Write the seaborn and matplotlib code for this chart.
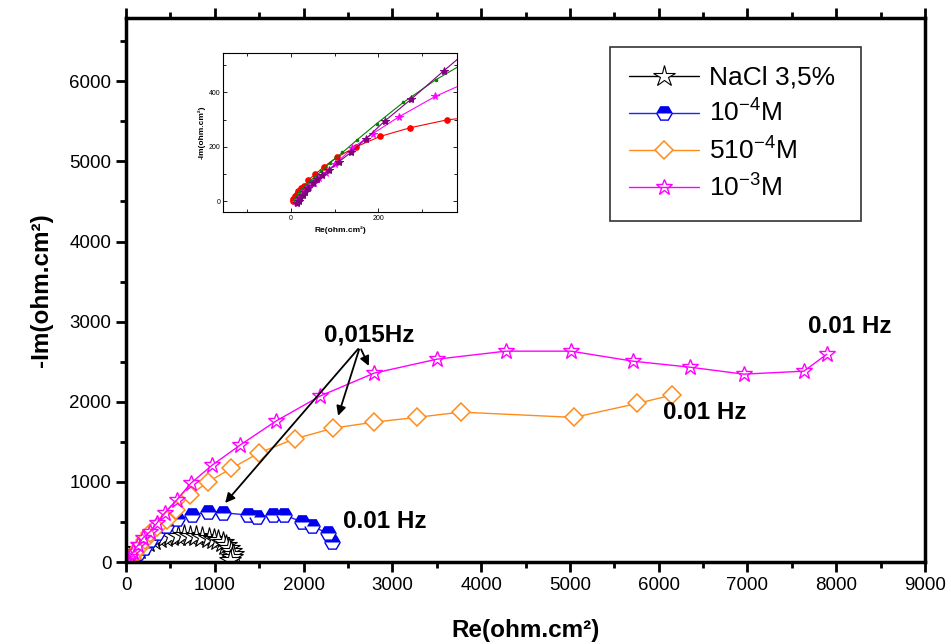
import matplotlib
matplotlib.use("Agg")
import matplotlib.pyplot as plt
import seaborn as sns
from matplotlib.ticker import MultipleLocator

# NaCl 3,5% (blank)
nacl_re = [20, 50, 90, 130, 180, 240, 300, 370, 440, 510, 580, 650, 720, 790,
           860, 930, 990, 1040, 1090, 1130, 1160, 1185, 1200, 1190, 1170]
nacl_im = [20, 60, 110, 160, 210, 250, 280, 300, 315, 325, 330, 332, 330, 326,
           318, 305, 290, 270, 245, 215, 180, 140, 100, 60, 30]

# 10^-4 M
m1e4_re = [15, 40, 80, 130, 200, 270, 346, 450, 578, 740, 927, 1096, 1378, 1471,
           1652, 1783, 1978, 2098, 2271, 2316]
m1e4_im = [5, 25, 60, 110, 180, 274, 358, 449, 532, 586, 627, 615, 586, 558,
           586, 586, 503, 449, 358, 253]

# 5 10^-4 M
m5e4_re = [10, 30, 64, 101, 158, 214, 270, 346, 458, 563, 721, 927, 1186, 1502,
           1903, 2335, 2793, 3273, 3769, 5045, 5759, 6145]
m5e4_im = [3, 15, 46, 108, 191, 274, 358, 433, 524, 649, 836, 1002, 1168, 1364,
           1538, 1671, 1746, 1805, 1871, 1805, 1979, 2083]

# 10^-3 M
m1e3_re = [8, 20, 45, 79, 135, 191, 270, 346, 439, 571, 729, 972, 1284, 1689,
           2185, 2793, 3502, 4279, 5011, 5709, 6351, 6959, 7635, 7894]
m1e3_im = [3, 15, 62, 125, 212, 299, 378, 483, 615, 773, 982, 1210, 1459, 1759,
           2071, 2357, 2532, 2632, 2632, 2507, 2432, 2345, 2382, 2594]

legend_labels = ["NaCl 3,5%", "10$^{-4}$M", "510$^{-4}$M", "10$^{-3}$M"]

# inset (zoom on high frequency part)
ins_purple_x = [15, 18, 22, 27, 33, 40, 50, 60, 72, 88, 110, 138, 172, 215, 275, 350, 420]
ins_purple_y = [-8, 0, 10, 22, 35, 50, 65, 80, 95, 115, 145, 180, 230, 295, 375, 480, 575]
ins_green_x = [8, 12, 18, 25, 35, 45, 55, 70, 90, 118, 152, 196, 257, 331, 420]
ins_green_y = [5, 15, 30, 45, 60, 75, 90, 110, 142, 179, 226, 285, 363, 446, 530]
ins_mag_x = [12, 16, 20, 26, 33, 42, 52, 64, 80, 100, 141, 187, 248, 330, 420]
ins_mag_y = [-5, 3, 12, 25, 38, 52, 68, 85, 105, 135, 195, 248, 311, 385, 450]
ins_red_x = [4, 6, 9, 13, 17, 23, 31, 40, 55, 76, 106, 148, 204, 273, 357, 420]
ins_red_y = [2, 8, 18, 28, 38, 48, 57, 78, 98, 127, 162, 199, 238, 270, 299, 310]

sns.set_style("ticks")
plt.rcParams['font.family'] = ['Liberation Sans', 'DejaVu Sans']
plt.rcParams['mathtext.fontset'] = 'custom'
plt.rcParams['mathtext.rm'] = 'Liberation Sans'
plt.rcParams['mathtext.it'] = 'Liberation Sans'
plt.rcParams['mathtext.bf'] = 'Liberation Sans:bold'
for key in ['text.color', 'axes.labelcolor', 'xtick.color', 'ytick.color', 'axes.edgecolor']:
    plt.rcParams[key] = 'black'

fig = plt.figure(figsize=(9.51, 6.44), dpi=100)
ax = fig.add_axes([0.1325, 0.1273, 0.8402, 0.8447])

common = dict(estimator=None, sort=False, ax=ax, legend=False)
sns.lineplot(x=nacl_re, y=nacl_im, color='black', lw=1, marker='*', markersize=16,
             markerfacecolor='white', markeredgecolor='black', markeredgewidth=0.8, **common)
sns.lineplot(x=m1e4_re, y=m1e4_im, color='#2020ff', lw=1, marker='H', markersize=11,
             fillstyle='top', markerfacecolor='#0000ee', markerfacecoloralt='white',
             markeredgecolor='#0000ee', markeredgewidth=1, **common)
sns.lineplot(x=m5e4_re, y=m5e4_im, color='#ff8c1a', lw=1, marker='D', markersize=9,
             markerfacecolor='white', markeredgecolor='#ff8c1a', markeredgewidth=1.1, **common)
sns.lineplot(x=m1e3_re, y=m1e3_im, color='#ff00ff', lw=1, marker='*', markersize=12,
             markerfacecolor='none', markeredgecolor='#ff00ff', markeredgewidth=1, **common)

ax.set_xlim(0, 9000)
ax.set_ylim(0, 6790)
ax.xaxis.set_major_locator(MultipleLocator(1000))
ax.xaxis.set_minor_locator(MultipleLocator(500))
ax.yaxis.set_major_locator(MultipleLocator(1000))
ax.yaxis.set_minor_locator(MultipleLocator(500))
ax.tick_params(which='both', direction='out', width=2, top=True, right=False,
               labelsize=13.5)
ax.tick_params(which='major', length=7)
ax.tick_params(which='minor', length=4)
for sp in ax.spines.values():
    sp.set_visible(True)
    sp.set_linewidth(2.5)

ax.set_xlabel("Re(ohm.cm²)", fontsize=17.5, fontweight='bold', labelpad=18)
ax.set_ylabel("-Im(ohm.cm²)", fontsize=17.5, fontweight='bold', labelpad=12)

# frequency annotations
ax.text(2736, 2831, "0,015Hz", fontsize=17.5, fontweight='bold', ha='center', va='center')
arrow = dict(arrowstyle='-|>', color='black', lw=1.3, mutation_scale=14)
for tip in [(2748, 2416), (2380, 1792), (1096, 711)]:
    ax.annotate("", xy=tip, xytext=(2635, 2686), arrowprops=arrow)
ax.text(8153, 2943, "0.01 Hz", fontsize=17.5, fontweight='bold', ha='center', va='center')
ax.text(6520, 1871, "0.01 Hz", fontsize=17.5, fontweight='bold', ha='center', va='center')
ax.text(2444, 511, "0.01 Hz", fontsize=17.5, fontweight='bold', ha='left', va='center')

leg = ax.legend(handles=ax.lines[:4], labels=legend_labels, loc='upper left',
                bbox_to_anchor=(0.606, 0.634, 0.314, 0.313), mode='expand',
                fontsize=19, handlelength=2.65, handletextpad=0.38, borderpad=0.72,
                labelspacing=0.38, fancybox=False, frameon=True, borderaxespad=0)
leg.get_frame().set_edgecolor('black')
leg.get_frame().set_linewidth(1.2)

# inset
ins = fig.add_axes([0.2345, 0.6708, 0.2461, 0.2469])
sns.lineplot(x=ins_red_x, y=ins_red_y, color='red', lw=0.8, marker='o', markersize=4,
             markeredgecolor='red', estimator=None, sort=False, ax=ins, legend=False)
sns.lineplot(x=ins_green_x, y=ins_green_y, color='green', lw=0.8, marker='o', markersize=1.8,
             markeredgecolor='green', estimator=None, sort=False, ax=ins, legend=False)
sns.lineplot(x=ins_mag_x, y=ins_mag_y, color='#ff00ff', lw=0.8, marker='*', markersize=5.5,
             markeredgecolor='#ff00ff', estimator=None, sort=False, ax=ins, legend=False)
sns.lineplot(x=ins_purple_x, y=ins_purple_y, color='#800080', lw=0.8, marker='*', markersize=6,
             markeredgecolor='#800080', estimator=None, sort=False, ax=ins, legend=False)
ins.set_xlim(-155, 380)
ins.set_ylim(-40, 545)
ins.xaxis.set_major_locator(MultipleLocator(200))
ins.xaxis.set_minor_locator(MultipleLocator(100))
ins.yaxis.set_major_locator(MultipleLocator(200))
ins.yaxis.set_minor_locator(MultipleLocator(100))
ins.tick_params(which='both', direction='in', top=True, right=True, width=0.6,
                labelsize=5, pad=2)
ins.tick_params(which='major', length=3)
ins.tick_params(which='minor', length=2)
for sp in ins.spines.values():
    sp.set_visible(True)
    sp.set_linewidth(0.8)
ins.set_xlabel("Re(ohm.cm²)", fontsize=6, fontweight='bold', labelpad=3)
ins.set_ylabel("-Im(ohm.cm²)", fontsize=6, fontweight='bold', labelpad=2)

fig.savefig("out.png", dpi=100)
